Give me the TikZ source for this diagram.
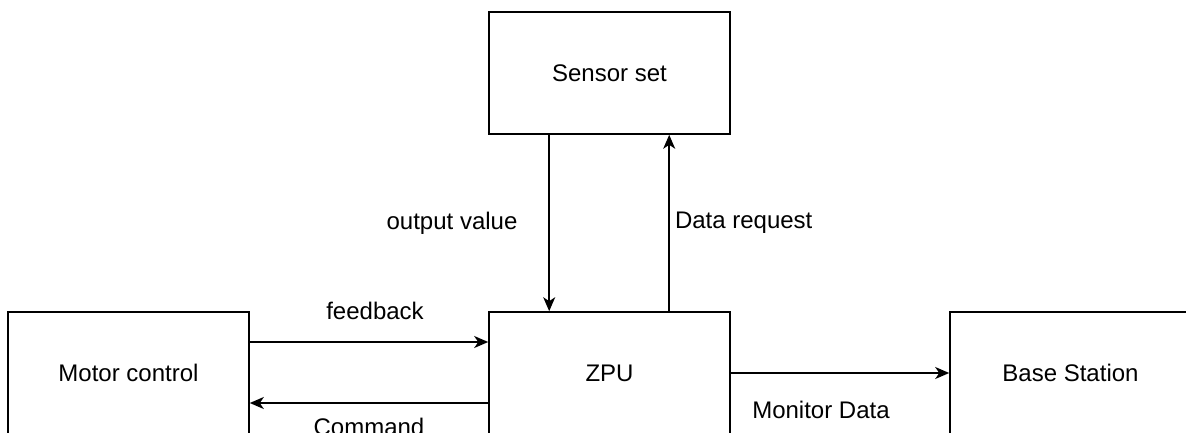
\documentclass[tikz,border=0pt]{standalone}
\usepackage{fontspec}
\setmainfont{Liberation Sans}
\usetikzlibrary{arrows.meta}

\begin{document}
\begin{tikzpicture}[x=1pt,y=-1pt,->,>={Stealth[length=14pt,width=12pt,inset=4pt]},
    line width=1.6pt,
    font=\fontsize{24}{28}\selectfont,
    block/.style={draw,-,minimum width=241pt,minimum height=122pt,inner sep=0pt},
    lbl/.style={inner sep=0pt,draw=none}]

\useasboundingbox (0,0) rectangle (1186,432);

\node [block] (sensor) at (609.5,73) {Sensor set};
\node [block] (zpu) at (609.5,373) {ZPU};
\node [block] (motor) at (128.5,373) {Motor control};
\node [block] (base) at (1070.5,373) {Base Station};

\path [draw]
    ([xshift=61pt]sensor.south west) -- node [lbl,midway,left=31pt] {output value} ([xshift=61pt]zpu.north west);
\path [draw]
    ([xshift=181pt]zpu.north west) -- node [lbl,midway,right=5pt] {Data request} ([xshift=181pt]sensor.south west);
\path [draw]
    ([yshift=31pt]motor.east) -- node [lbl,midway,above=21pt,xshift=6pt] {feedback} ([yshift=31pt]zpu.west);
\path [draw]
    ([yshift=-30pt]zpu.west) -- node [lbl,midway,below=14pt] {Command} ([yshift=-30pt]motor.east);
\path [draw]
    (zpu.east) -- node [lbl,midway,below=27pt,xshift=-19pt] {Monitor Data} (base.west);

\end{tikzpicture}
\end{document}
